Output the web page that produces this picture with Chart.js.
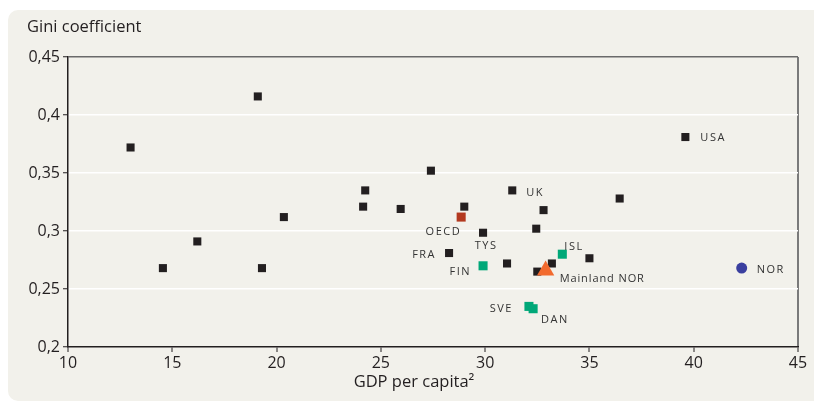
<!DOCTYPE html>
<html>
<head>
<meta charset="utf-8">
<title>Gini coefficient vs GDP per capita</title>
<script src="https://cdn.jsdelivr.net/npm/chart.js@4.4.1/dist/chart.umd.min.js"></script>
<style>
  body { margin: 0; background: #ffffff; }
  #wrap { position: relative; width: 814px; height: 403px; }
  #panel { position: absolute; left: 8px; top: 10px; width: 806px; height: 391px;
           background: #f2f1eb; border-radius: 10px 0 0 10px; }
  #miGrafico { position: absolute; left: 0; top: 0; }
</style>
</head>
<body>
<div id="wrap">
  <div id="panel"></div>
  <canvas id="miGrafico" width="814" height="403"></canvas>
</div>
<script>
// Data
const xTicks = [10, 15, 20, 25, 30, 35, 40, 45];
const yTicks = [0.2, 0.25, 0.3, 0.35, 0.4, 0.45];

// Other OECD countries (black squares)
const otherNames = ['', '', '', '', '', '', '', '', '', '', '', 'FRA', 'USA', 'UK', '', '', '', 'TYS', '', '', '', ''];
const otherGdp = [13.0, 19.1, 24.25, 14.55, 16.2, 19.3, 20.35, 24.15, 25.95, 27.4, 29.0, 28.27, 39.6, 31.3, 36.45, 32.8, 32.45, 29.9, 31.05, 32.5, 33.2, 35.0];
const otherGini = [0.372, 0.416, 0.335, 0.268, 0.291, 0.268, 0.312, 0.321, 0.319, 0.352, 0.321, 0.281, 0.381, 0.335, 0.328, 0.318, 0.302, 0.2985, 0.272, 0.265, 0.272, 0.2765];

// OECD average
const oecdNames = ['OECD'];
const oecdGdp = [28.85];
const oecdGini = [0.312];

// Nordic countries
const nordicNames = ['FIN', 'ISL', 'SVE', 'DAN'];
const nordicGdp = [29.9, 33.7, 32.1, 32.3];
const nordicGini = [0.270, 0.280, 0.235, 0.233];

// Mainland Norway and Norway
const mainlandNames = ['Mainland NOR'];
const mainlandGdp = [32.9];
const mainlandGini = [0.266];

const norNames = ['NOR'];
const norGdp = [42.3];
const norGini = [0.268];

function toPoints(xs, ys) {
    return xs.map(function (x, i) {
        return { x: x, y: ys[i] };
    });
}

// Label placement next to each marker (pixels)
const labelPos = {
    'USA': { dx: 15, dy: 1, align: 'left' },
    'UK': { dx: 14, dy: 2, align: 'left' },
    'OECD': { dx: 0, dy: 15, align: 'right' },
    'TYS': { dx: 3, dy: 13, align: 'center' },
    'FRA': { dx: -13, dy: 2, align: 'right' },
    'FIN': { dx: -12, dy: 6, align: 'right' },
    'ISL': { dx: 2, dy: -7, align: 'left' },
    'Mainland NOR': { dx: 14, dy: 8, align: 'left', spacing: '0.9px' },
    'NOR': { dx: 15, dy: 2, align: 'left' },
    'SVE': { dx: -16, dy: 2, align: 'right' },
    'DAN': { dx: 8, dy: 11, align: 'left' }
};

const FONT = '"Open Sans", "DejaVu Sans", sans-serif';

function same(a, b) {
    return Math.abs(a - b) < 1e-6;
}

// Draws point names and the two axis titles
const labelsPlugin = {
    id: 'labelsPlugin',
    afterDatasetsDraw: function (chart) {
        const ctx = chart.ctx;
        ctx.save();
        ctx.fillStyle = '#333333';
        ctx.font = '11px ' + FONT;
        ctx.textBaseline = 'middle';
        chart.data.datasets.forEach(function (ds, i) {
            const meta = chart.getDatasetMeta(i);
            ds.names.forEach(function (name, j) {
                if (!name) return;
                const p = labelPos[name];
                const el = meta.data[j];
                ctx.letterSpacing = p.spacing || '1.5px';
                ctx.textAlign = p.align;
                ctx.fillText(name, el.x + p.dx, el.y + p.dy);
            });
        });
        ctx.letterSpacing = '0px';
        ctx.fillStyle = '#231f20';
        ctx.font = '16.5px ' + FONT;
        ctx.textAlign = 'left';
        ctx.fillText('Gini coefficient', 27, 27);
        ctx.textAlign = 'center';
        ctx.fillText('GDP per capita²', 414, 382);
        ctx.restore();
    }
};

const ctx = document.getElementById('miGrafico').getContext('2d');

new Chart(ctx, {
    type: 'scatter',
    data: {
        datasets: [{
            names: otherNames,
            data: toPoints(otherGdp, otherGini),
            pointStyle: 'rect',
            pointRadius: 5.7,
            backgroundColor: '#231f20',
            borderWidth: 0,
            order: 5
        }, {
            names: oecdNames,
            data: toPoints(oecdGdp, oecdGini),
            pointStyle: 'rect',
            pointRadius: 6.4,
            backgroundColor: '#b3391f',
            borderWidth: 0,
            order: 3
        }, {
            names: nordicNames,
            data: toPoints(nordicGdp, nordicGini),
            pointStyle: 'rect',
            pointRadius: 6.4,
            backgroundColor: '#00a878',
            borderWidth: 0,
            order: 3
        }, {
            names: mainlandNames,
            data: toPoints(mainlandGdp, mainlandGini),
            pointStyle: 'triangle',
            pointRadius: 10,
            backgroundColor: '#f26a2e',
            borderWidth: 0,
            order: 1
        }, {
            names: norNames,
            data: toPoints(norGdp, norGini),
            pointStyle: 'circle',
            pointRadius: 5.5,
            backgroundColor: '#3a3f9f',
            borderWidth: 0,
            order: 1
        }]
    },
    options: {
        responsive: false,
        animation: false,
        layout: {
            padding: { left: 0, top: 57, right: 16, bottom: 0 }
        },
        plugins: {
            legend: { display: false },
            tooltip: { enabled: false }
        },
        scales: {
            x: {
                type: 'linear',
                min: xTicks[0],
                max: xTicks[xTicks.length - 1],
                afterBuildTicks: function (scale) {
                    scale.ticks = xTicks.map(function (v) { return { value: v }; });
                },
                afterFit: function (scale) {
                    scale.height = 56;
                },
                ticks: {
                    color: '#231f20',
                    font: { family: FONT, size: 16 },
                    padding: 2,
                    maxRotation: 0
                },
                grid: {
                    color: function (c) {
                        return same(c.tick.value, 45) ? '#7a7a7a' : 'rgba(0,0,0,0)';
                    },
                    lineWidth: 2,
                    tickColor: '#231f20',
                    tickWidth: 1,
                    tickLength: 5
                },
                border: { color: '#231f20', width: 1.5 }
            },
            y: {
                type: 'linear',
                min: yTicks[0],
                max: yTicks[yTicks.length - 1],
                afterBuildTicks: function (scale) {
                    scale.ticks = yTicks.map(function (v) { return { value: v }; });
                },
                afterFit: function (scale) {
                    scale.width = 68;
                },
                ticks: {
                    color: '#231f20',
                    font: { family: FONT, size: 16 },
                    padding: 3,
                    callback: function (v) {
                        return (Math.round(v * 100) / 100).toString().replace('.', ',');
                    }
                },
                grid: {
                    color: function (c) {
                        if (same(c.tick.value, 0.45)) return '#6a6a6a';
                        if (same(c.tick.value, 0.2)) return 'rgba(0,0,0,0)';
                        return '#ffffff';
                    },
                    lineWidth: 1.5,
                    tickColor: '#231f20',
                    tickWidth: 1,
                    tickLength: 5
                },
                border: { color: '#231f20', width: 1.5 }
            }
        }
    },
    plugins: [labelsPlugin]
});
</script>
</body>
</html>
